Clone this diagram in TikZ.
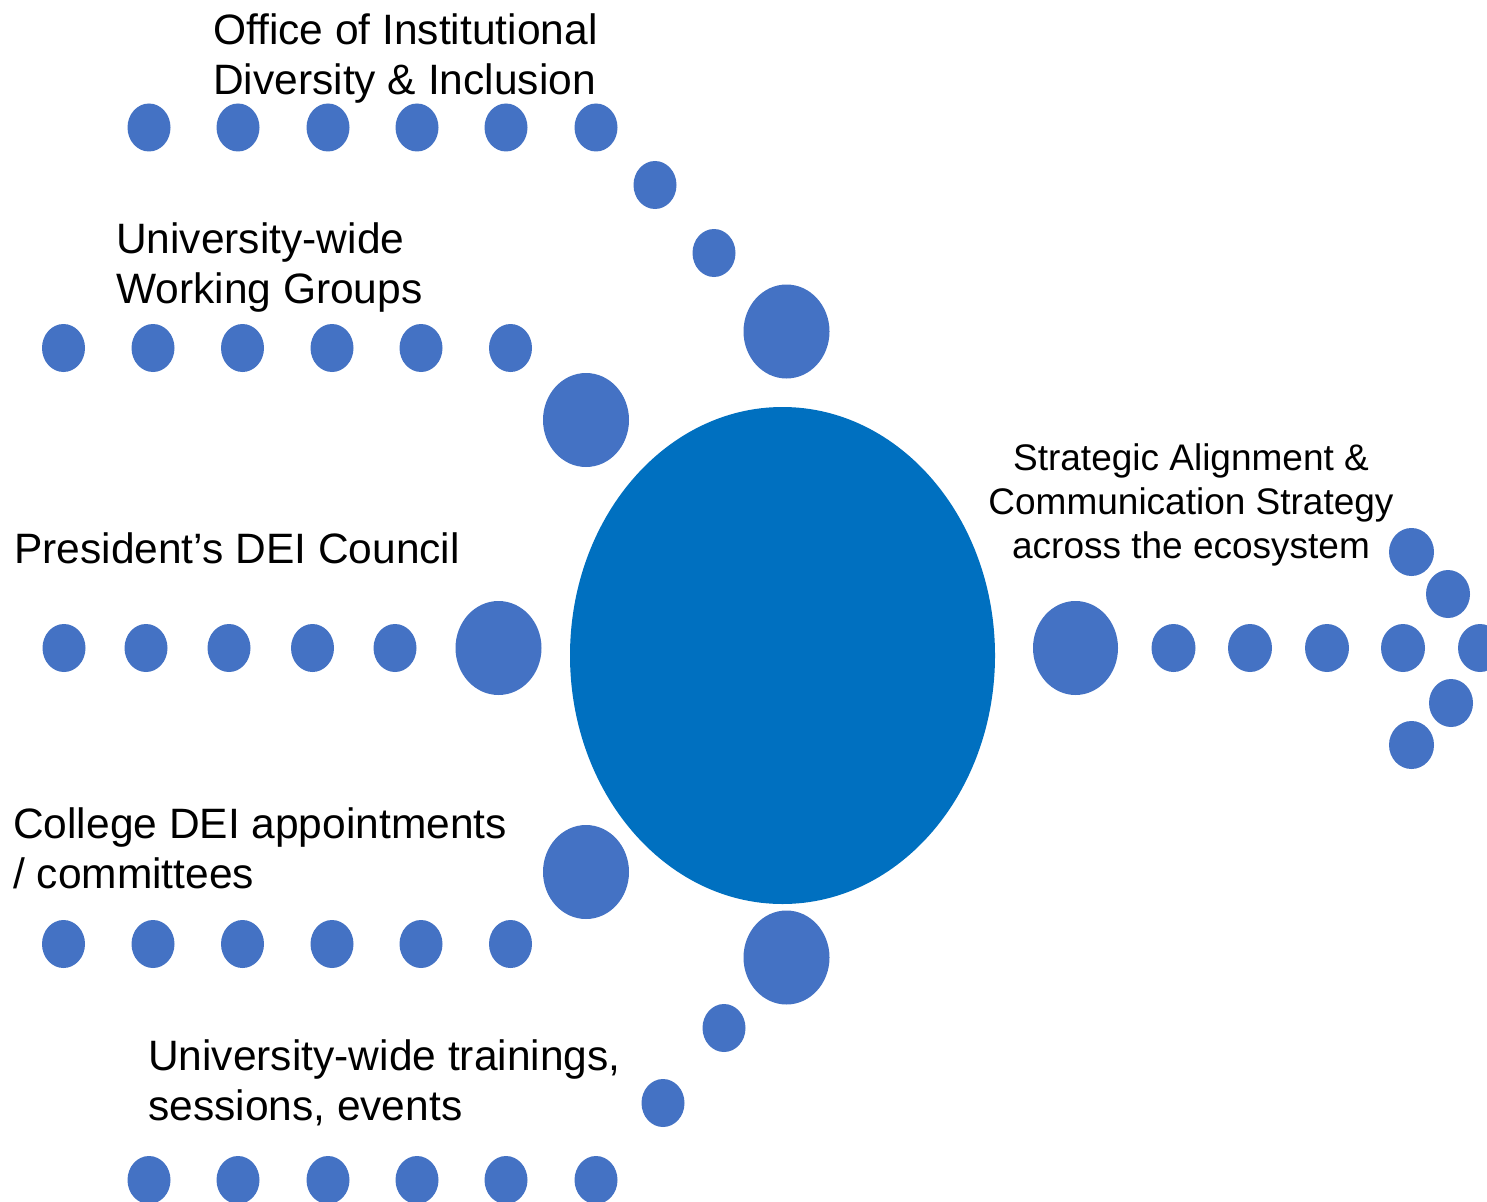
\documentclass[tikz,border=0pt]{standalone}
\usepackage{fontspec}
\setmainfont{Liberation Sans}
\usetikzlibrary{shapes.geometric}
\definecolor{dotblue}{HTML}{4472C4}
\definecolor{hubblue}{HTML}{0070C0}
\begin{document}
\begin{tikzpicture}[x=1pt,y=-1pt,
  dot/.style={ellipse,fill=dotblue,inner sep=0pt,minimum width=43pt,minimum height=48pt},
  bigdot/.style={ellipse,fill=dotblue,inner sep=0pt,minimum width=86pt,minimum height=94pt},
  hub/.style={ellipse,fill=hubblue,inner sep=0pt,minimum width=425pt,minimum height=497pt},
  lbl/.style={inner sep=0pt,align=left,anchor=base west,font=\fontsize{42.5}{50}\selectfont},
  rlbl/.style={inner sep=0pt,align=center,anchor=base,font=\fontsize{37}{44}\selectfont}]
\useasboundingbox (0,0) rectangle (1487,1201);
\fill[white] (0,0) rectangle (1487,1201);
% central hub
\node[hub] (hub) at (782.5,655.5) {};
% row 1: Office of Institutional Diversity & Inclusion
\foreach \x [count=\i] in {149,238,328,417,506,596}
  \node[dot] (a\i) at (\x,127.5) {};
\node[dot] (a7) at (655,185) {};
\node[dot] (a8) at (714,253) {};
\node[bigdot] (a9) at (786.5,331.5) {};
% row 2: University-wide Working Groups
\foreach \x [count=\i] in {63.5,153,242.5,332,421,510.5}
  \node[dot] (b\i) at (\x,348) {};
\node[bigdot] (b7) at (586,420) {};
% row 3: President's DEI Council
\foreach \x [count=\i] in {64,146,229,312.5,395}
  \node[dot] (c\i) at (\x,648) {};
\node[bigdot] (c6) at (498.5,648) {};
% row 4: College DEI appointments
\foreach \x [count=\i] in {63.5,153,242.5,332,421,510.5}
  \node[dot] (d\i) at (\x,944) {};
\node[bigdot] (d7) at (586,872) {};
% row 5: trainings
\foreach \x [count=\i] in {149,238,328,417,506,596}
  \node[dot] (e\i) at (\x,1180) {};
\node[dot] (e7) at (663,1103) {};
\node[dot] (e8) at (724,1028) {};
\node[bigdot] (e9) at (786.5,957.5) {};
% right arrow
\node[bigdot,minimum width=85pt] (f1) at (1075.5,648) {};
\foreach \x [count=\i from 2] in {1173.5,1250,1327,1403,1480}
  \node[dot,minimum width=44pt] (f\i) at (\x,648) {};
\node[dot,minimum width=45pt] (g1) at (1411.5,552) {};
\node[dot,minimum width=44pt] (g2) at (1448,594) {};
\node[dot,minimum width=44pt] (g3) at (1451,703) {};
\node[dot,minimum width=45pt] (g4) at (1411.5,745) {};
% labels (base anchor = baseline of the last line)
\node[lbl] (t1) at (213,95) {Office of Institutional\\Diversity \& Inclusion};
\node[lbl] (t2) at (116,303) {University-wide\\Working Groups};
\node[lbl] (t3) at (14,563) {President’s DEI Council};
\node[lbl] (t4) at (13,888) {College DEI appointments\\/ committees};
\node[lbl] (t5) at (148,1120) {University-wide trainings,\\sessions, events};
\node[rlbl] (t6) at (1191,558) {Strategic Alignment \&\\Communication Strategy\\across the ecosystem};
\end{tikzpicture}
\end{document}
